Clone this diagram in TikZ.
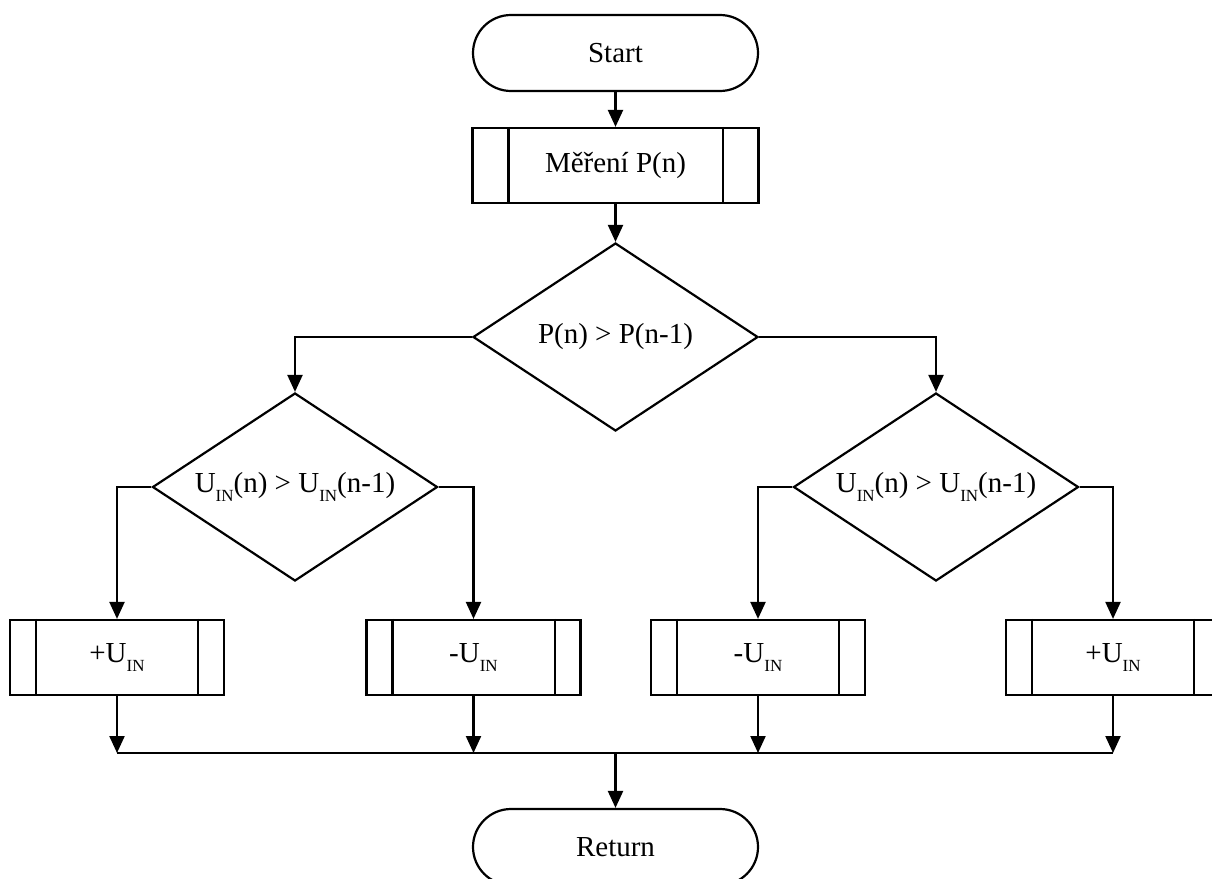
\documentclass[tikz,border=0pt]{standalone}
\usepackage{fontspec}
\setmainfont{Liberation Serif}
\usetikzlibrary{shapes.geometric,arrows.meta}
\newcommand{\lowidx}[1]{\raisebox{-0.32em}{\fontsize{17}{17}\selectfont #1}}
\begin{document}
\begin{tikzpicture}[x=1pt,y=-1pt,
  every node/.style={font=\fontsize{29}{34}\selectfont, inner sep=0pt},
  line/.style={line width=2.2pt, line join=miter},
  arr/.style={line, -{Triangle[width=15pt,length=17pt]}},
  terminal/.style={draw, line, rectangle, rounded corners=38pt,
    minimum width=285pt, minimum height=76pt},
  procbox/.style={draw, line, rectangle, minimum height=75pt},
  decision/.style={draw, line, diamond, aspect=1.516,
    minimum width=285pt, minimum height=188pt}]
  \clip (0,0) rectangle (1212,878);

  % main column
  \node[terminal] (start) at (615.5,53) {Start};
  \node[procbox, minimum width=286pt] (meas) at (615.5,165.5) {Měření P(n)};
  \node[decision] (d1) at (615.5,337) {P(n) > P(n-1)};

  % second level decisions
  \node[decision] (dl) at (295,487) {U\lowidx{IN}(n) > U\lowidx{IN}(n-1)};
  \node[decision] (dr) at (936,487) {U\lowidx{IN}(n) > U\lowidx{IN}(n-1)};

  % voltage step boxes
  \node[procbox, minimum width=214pt] (ba) at (117,657.5) {+U\lowidx{IN}};
  \node[procbox, minimum width=214pt] (bb) at (473.5,657.5) {-U\lowidx{IN}};
  \node[procbox, minimum width=214pt] (bc) at (758,657.5) {-U\lowidx{IN}};
  \node[procbox, minimum width=214pt] (bd) at (1113,657.5) {+U\lowidx{IN}};

  \node[terminal] (ret) at (615.5,847) {Return};

  % side bars of the subroutine boxes
  \draw[line] ([xshift=37pt]meas.north west) -- ([xshift=37pt]meas.south west);
  \draw[line] ([xshift=-37pt]meas.north east) -- ([xshift=-37pt]meas.south east);
  \foreach \b in {ba,bb,bc,bd}{
    \draw[line] ([xshift=27pt]\b.north west) -- ([xshift=27pt]\b.south west);
    \draw[line] ([xshift=-27pt]\b.north east) -- ([xshift=-27pt]\b.south east);
  }

  % flow
  \draw[arr] (start) -- (meas);
  \draw[arr] (meas) -- (d1);
  \draw[arr] (d1.west) -| (dl.north);
  \draw[arr] (d1.east) -| (dr.north);
  \draw[arr] (dl.west) -| (ba.north);
  \draw[arr] (dl.east) -| (bb.north);
  \draw[arr] (dr.west) -| (bc.north);
  \draw[arr] (dr.east) -| (bd.north);

  % merge bus
  \coordinate (mL) at (117,753);
  \coordinate (mR) at (1113,753);
  \coordinate (mC) at (615.5,753);
  \draw[line] (mL) -- (mR);
  \foreach \b in {ba,bb,bc,bd}{
    \draw[arr] (\b.south) -- (\b.south |- mL);
  }
  \draw[arr] (mC) -- (ret.north);
\end{tikzpicture}
\end{document}
